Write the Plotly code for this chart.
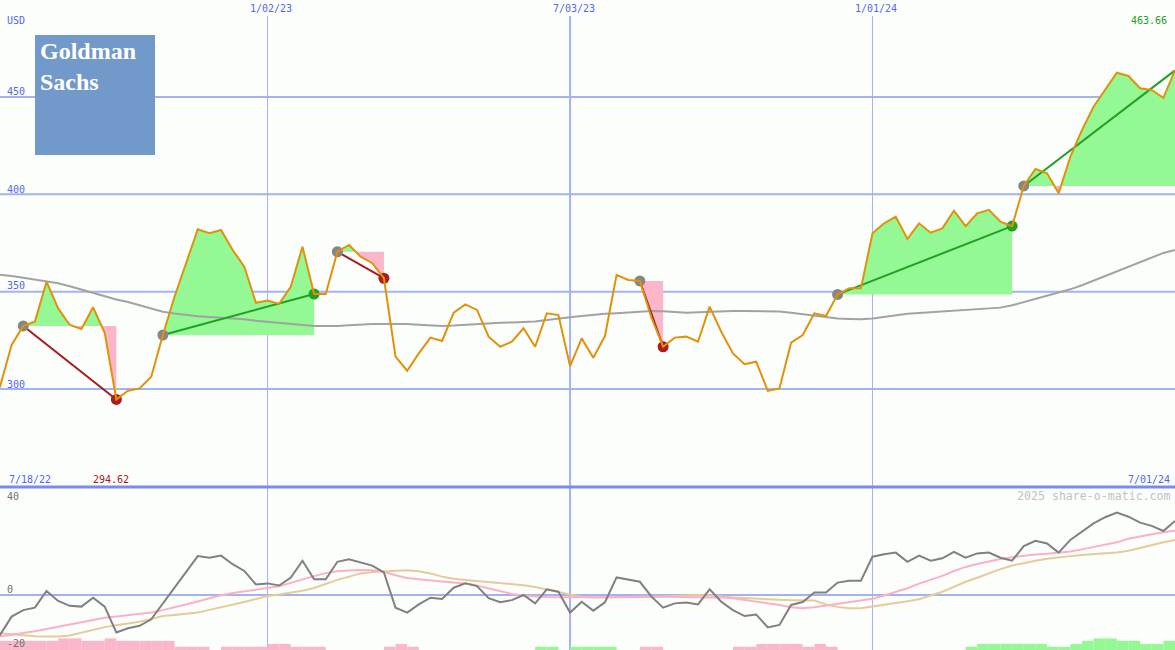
import pandas as pd
import plotly.graph_objects as go

# ---------------- data (weekly closes) ----------------
start_date = "2022-07-18"
n_weeks = 103
dates = list(pd.date_range(start_date, periods=n_weeks, freq="7D"))

price = [292.0, 301.2, 322.6, 332.4, 334.6, 355.1, 341.4, 332.9, 330.8, 342.0,
         328.9, 294.62, 299.1, 300.3, 306.3, 327.7, 347.4, 364.6, 382.0, 380.0,
         381.7, 371.4, 362.8, 344.3, 345.4, 343.7, 352.6, 373.1, 348.8, 348.8,
         370.5, 374.0, 368.0, 364.6, 356.9, 316.6, 309.4, 318.3, 326.4, 324.7,
         339.2, 343.5, 340.6, 326.9, 321.7, 324.3, 331.2, 321.7, 338.9, 338.0,
         311.8, 326.0, 316.1, 327.2, 358.6, 356.0, 355.5, 336.6, 321.7, 326.4,
         326.9, 324.3, 342.3, 329.4, 318.3, 312.7, 314.0, 299.1, 300.3, 323.8,
         327.7, 338.9, 337.5, 348.6, 351.7, 351.7, 380.0, 385.1, 388.5, 377.1,
         385.1, 380.3, 382.5, 391.6, 383.7, 390.2, 392.0, 386.0, 383.7, 404.3,
         413.0, 410.8, 400.5, 419.3, 433.0, 445.0, 453.6, 462.5, 460.8, 454.5,
         453.6, 449.6, 463.66]

moving_avg = [359.5, 358.6, 358.0, 357.2, 356.3, 355.5, 354.3, 352.8, 351.1, 349.3,
              347.6, 346.0, 344.7, 343.0, 341.2, 339.7, 338.8, 338.0, 337.4, 337.0,
              336.6, 336.3, 335.8, 335.1, 334.5, 334.0, 333.4, 332.7, 332.4, 332.4,
              332.4, 332.8, 333.2, 333.4, 333.4, 333.5, 333.4, 333.0, 332.6, 332.4,
              332.6, 333.0, 333.4, 333.8, 334.0, 334.2, 334.4, 334.7, 335.5, 336.3,
              336.9, 337.5, 338.1, 338.6, 338.9, 339.3, 339.8, 340.1, 340.0, 339.6,
              339.2, 339.4, 339.7, 340.0, 340.1, 340.1, 340.1, 340.1, 339.8, 339.2,
              338.4, 337.5, 336.7, 336.2, 336.0, 335.8, 336.2, 337.0, 338.0, 338.7,
              339.0, 339.4, 339.8, 340.2, 340.6, 341.0, 341.3, 341.8, 343.0, 344.6,
              346.2, 347.8, 349.4, 351.2, 353.3, 355.7, 358.0, 360.5, 363.0, 365.5,
              367.9, 369.9, 371.4]

# trades: entry week index, exit week index, whether the exit is closed (marker)
trade_entry = [3, 15, 30, 56, 73, 89]
trade_exit = [11, 28, 34, 58, 88, 102]
trade_closed = [True, True, True, True, True, False]

# lower panel
oscillator = [-17.0, -14.8, -8.0, -5.6, -4.7, 1.5, -2.2, -4.0, -4.3, -1.0,
              -4.3, -13.9, -12.3, -11.4, -9.0, -3.1, 2.5, 8.6, 14.4, 13.8,
              14.6, 11.4, 8.9, 3.9, 4.3, 3.5, 6.5, 12.7, 5.8, 5.8,
              12.3, 13.2, 12.0, 10.9, 8.4, -4.7, -6.5, -3.5, -1.0, -1.5,
              2.7, 4.3, 3.3, -1.2, -2.7, -1.9, 0.0, -3.1, 2.1, 1.2,
              -6.5, -2.5, -5.8, -2.7, 6.5, 5.6, 4.9, -0.6, -4.7, -3.1,
              -2.8, -3.5, 2.1, -2.5, -5.6, -7.8, -7.2, -12.0, -11.1, -3.7,
              -2.6, 0.9, 0.9, 4.6, 5.3, 5.3, 14.2, 15.1, 15.7, 12.3,
              14.6, 12.7, 13.6, 16.0, 13.8, 15.4, 15.7, 13.8, 12.7, 18.1,
              20.1, 19.1, 15.7, 20.4, 23.5, 26.5, 28.8, 30.5, 29.0, 26.8,
              25.6, 23.7, 27.4]

signal_fast = [-16.0, -15.4, -14.8, -14.2, -13.4, -12.6, -11.8, -10.9, -10.0, -9.2,
               -8.4, -8.0, -7.5, -7.0, -6.5, -5.6, -4.6, -3.4, -2.4, -1.2,
               -0.1, 0.7, 1.3, 2.0, 2.6, 3.2, 4.5, 5.8, 7.0, 8.1,
               8.8, 9.1, 9.3, 9.2, 8.6, 7.3, 6.3, 5.8, 5.3, 5.0,
               4.6, 4.3, 3.5, 2.5, 1.4, 0.4, -0.3, -0.6, -0.7, -0.8,
               -0.8, -0.9, -0.9, -0.9, -0.8, -0.7, -0.6, -0.6, -0.6, -0.7,
               -0.7, -0.8, -0.9, -0.9, -1.2, -1.8, -2.3, -3.0, -3.7, -4.5,
               -4.9, -4.5, -3.9, -3.2, -2.6, -2.1, -1.4, -0.2, 1.1, 2.5,
               4.2, 5.6, 7.1, 8.9, 10.4, 11.5, 12.5, 13.3, 14.0, 14.6,
               15.0, 15.3, 15.6, 16.1, 16.9, 17.7, 18.6, 19.5, 20.8, 21.7,
               22.5, 23.2, 23.8]

signal_slow = [-13.8, -14.2, -14.7, -15.1, -15.3, -15.4, -15.4, -15.0, -14.0, -12.9,
               -11.9, -11.2, -10.6, -9.9, -8.9, -7.8, -7.4, -7.0, -6.5, -5.5,
               -4.6, -3.7, -2.6, -1.5, -0.4, 0.2, 0.8, 1.6, 2.6, 4.1,
               5.6, 6.8, 8.0, 8.5, 8.7, 9.1, 9.2, 8.8, 8.0, 6.8,
               6.0, 5.6, 5.2, 4.9, 4.6, 4.1, 3.6, 3.0, 2.1, 1.0,
               0.2, -0.7, -0.9, -0.9, -0.9, -0.9, -0.8, -0.7, -0.6, -0.4,
               -0.2, 0.0, -0.2, -0.6, -0.9, -1.1, -1.4, -1.7, -1.8, -1.9,
               -1.9, -2.0, -3.5, -4.4, -4.9, -4.9, -4.3, -3.7, -3.0, -2.3,
               -1.6, -0.3, 1.2, 3.0, 4.9, 6.4, 8.0, 9.6, 10.9, 11.9,
               12.7, 13.4, 14.0, 14.4, 14.8, 15.2, 15.5, 15.7, 16.4, 17.4,
               18.5, 19.5, 20.4]

histogram = [-3.4, -3.4, -3.4, -3.4, -3.4, -3.4, -4.3, -4.3, -3.4, -3.4,
             -4.3, -3.4, -3.4, -3.4, -3.4, -3.4, -1.2, -1.2, -1.2, 0.0,
             -1.2, -1.2, -1.2, -1.2, -2.2, -2.2, -1.2, -1.2, -1.2, 0.0,
             0.0, 0.0, 0.0, 0.0, -1.2, -2.2, -1.2, 0.0, 0.0, 0.0,
             0.0, 0.0, 0.0, 0.0, 0.0, 0.0, 0.0, 1.2, 1.2, 0.0,
             1.2, 1.2, 1.2, 1.2, 0.0, 0.0, -1.2, -1.2, 0.0, 0.0,
             0.0, 0.0, 0.0, 0.0, -1.2, -1.2, -2.2, -2.2, -2.2, -2.2,
             -1.2, -2.2, -1.2, 0.0, 0.0, 0.0, 0.0, 0.0, 0.0, 0.0,
             0.0, 0.0, 0.0, 0.0, 1.2, 2.2, 2.2, 2.2, 2.2, 2.2,
             2.2, 1.2, 1.2, 2.2, 3.4, 4.3, 4.3, 3.4, 3.4, 2.2,
             2.2, 3.4, 3.4]

price_ticks = [300, 350, 400, 450]
osc_ticks = [40, 0, -20]
grid_dates = ["2023-01-02", "2023-07-03", "2024-01-01"]
grid_labels = ["1/02/23", "7/03/23", "1/01/24"]
first_label = "7/18/22"
last_label = "7/01/24"
low_label = "294.62"
last_price_label = "463.66"
logo_text = "Goldman<br>Sachs"

# ---------------- styling ----------------
W, H = 1175, 650
SPLIT = 487  # pixel row of panel separator
P_RANGE = [249.66, 499.83]
O_RANGE = [-20.37, 40.0]
X_RANGE = ["2022-07-25", "2024-07-01"]
BG = "#fcfefc"
GRID = "#a4b2f2"
BLUE_TXT = "#5466f0"
ORANGE = "#e0920a"
GREEN_FILL = "#94f894"
PINK_FILL = "#fbb6c9"
MONO = "DejaVu Sans Mono"


def px(x):
    return x / W


def py(y):
    return 1 - y / H


fig = go.Figure()

# ---------------- trade fills ----------------
for e, x_end in zip(trade_entry, trade_exit):
    level = price[e]
    xs, ps = [dates[e]], [price[e]]
    for k in range(e, x_end):
        p0, p1 = price[k], price[k + 1]
        if (p0 - level) * (p1 - level) < 0:
            f = (level - p0) / (p1 - p0)
            xs.append(dates[k] + (dates[k + 1] - dates[k]) * f)
            ps.append(level)
        xs.append(dates[k + 1])
        ps.append(p1)
    up = [max(p, level) for p in ps]
    dn = [min(p, level) for p in ps]
    for ys, col in ((up, GREEN_FILL), (dn, PINK_FILL)):
        fig.add_trace(go.Scatter(x=xs, y=[level] * len(xs), mode="lines",
                                 line=dict(width=0), hoverinfo="skip",
                                 showlegend=False))
        fig.add_trace(go.Scatter(x=xs, y=ys, mode="lines", fill="tonexty",
                                 fillcolor=col, line=dict(width=0),
                                 hoverinfo="skip", showlegend=False))

# moving average
fig.add_trace(go.Scatter(x=dates, y=moving_avg, mode="lines",
                         line=dict(color="#a2a2a2", width=2), showlegend=False,
                         hoverinfo="skip"))

# trade lines and markers
for e, x_end, closed in zip(trade_entry, trade_exit, trade_closed):
    win = price[x_end] > price[e]
    lc = "#22a022" if win else "#a41c1c"
    fig.add_trace(go.Scatter(x=[dates[e], dates[x_end]], y=[price[e], price[x_end]],
                             mode="lines", line=dict(color=lc, width=2),
                             showlegend=False, hoverinfo="skip"))
for e, x_end, closed in zip(trade_entry, trade_exit, trade_closed):
    win = price[x_end] > price[e]
    mc = "#24a024" if win else "#aa1e1e"
    fig.add_trace(go.Scatter(x=[dates[e]], y=[price[e]], mode="markers",
                             marker=dict(color="#868686", size=11),
                             showlegend=False, hoverinfo="skip"))
    if closed:
        fig.add_trace(go.Scatter(x=[dates[x_end]], y=[price[x_end]], mode="markers",
                                 marker=dict(color=mc, size=11),
                                 showlegend=False, hoverinfo="skip"))

# price line
fig.add_trace(go.Scatter(x=dates, y=price, mode="lines",
                         line=dict(color=ORANGE, width=2), showlegend=False,
                         hoverinfo="skip"))

# ---------------- lower panel ----------------
week_ms = 7 * 24 * 3600 * 1000
fig.add_trace(go.Bar(x=dates, y=[abs(v) for v in histogram], base=O_RANGE[0],
                     offset=0, width=[week_ms] * n_weeks,
                     marker=dict(color=[GREEN_FILL if v > 0 else PINK_FILL for v in histogram],
                                 line=dict(width=0)),
                     yaxis="y2", showlegend=False, hoverinfo="skip"))
fig.add_trace(go.Scatter(x=dates, y=signal_slow, mode="lines", yaxis="y2",
                         line=dict(color="#e4cc98", width=2), showlegend=False,
                         hoverinfo="skip"))
fig.add_trace(go.Scatter(x=dates, y=signal_fast, mode="lines", yaxis="y2",
                         line=dict(color="#fcb0c8", width=2), showlegend=False,
                         hoverinfo="skip"))
fig.add_trace(go.Scatter(x=dates, y=oscillator, mode="lines", yaxis="y2",
                         line=dict(color="#808080", width=2), showlegend=False,
                         hoverinfo="skip"))

# ---------------- shapes ----------------
shapes = []
for v in price_ticks:
    shapes.append(dict(type="line", xref="paper", yref="y", x0=0, x1=1, y0=v, y1=v,
                       line=dict(color=GRID, width=2), layer="below"))
shapes.append(dict(type="line", xref="paper", yref="y2", x0=0, x1=1, y0=0, y1=0,
                   line=dict(color=GRID, width=2), layer="below"))
for d in grid_dates:
    wv = 2 if d.endswith("07-03") else 1
    shapes.append(dict(type="line", xref="x", yref="paper", x0=d, x1=d, y0=0, y1=py(16),
                       line=dict(color=GRID, width=wv), layer="below"))
shapes.append(dict(type="line", xref="paper", yref="paper", x0=0, x1=1,
                   y0=py(SPLIT), y1=py(SPLIT), line=dict(color="#7a8af0", width=3),
                   layer="above"))
# logo box
shapes.append(dict(type="rect", xref="paper", yref="paper", x0=px(35), x1=px(155),
                   y0=py(155), y1=py(35), fillcolor="#7199c9", line=dict(width=0),
                   layer="above"))

# ---------------- annotations ----------------
ann = []


def label(text, x, y, color, anchor="left", size=10, family=MONO, pad=1, yanchor="middle"):
    ann.append(dict(text=text, x=px(x), y=py(y), xref="paper", yref="paper",
                    xanchor=anchor, yanchor=yanchor, showarrow=False, borderpad=pad,
                    align="left", font=dict(family=family, size=size, color=color)))


label("USD", 5, 21, BLUE_TXT)
tick_rows = {450: 91, 400: 189, 350: 286, 300: 384}
for v in price_ticks:
    label(str(v), 5, tick_rows[v], BLUE_TXT)
grid_px = {"2023-01-02": 271, "2023-07-03": 574, "2024-01-01": 876}
for d, t in zip(grid_dates, grid_labels):
    label(t, grid_px[d], 9, BLUE_TXT, anchor="center")
label(last_price_label, 1169, 21, "#22a022", anchor="right")
label(first_label, 7, 479, BLUE_TXT)
label(low_label, 91, 479, "#a41c1c")
label(last_label, 1172, 479, BLUE_TXT, anchor="right")
label("2025 share-o-matic.com", 1173, 496, "#c2c2c2", anchor="right", size=11.6)
osc_rows = {40: 496, 0: 589, -20: 643}
for v in osc_ticks:
    label(str(v), 5, osc_rows[v], "#707070")
label("<b>" + logo_text + "</b>", 39, 37, "white", size=24,
      family="Liberation Serif", pad=0, yanchor="top")

fig.update_layout(
    width=W, height=H, margin=dict(l=0, r=0, t=0, b=0),
    paper_bgcolor=BG, plot_bgcolor=BG,
    xaxis=dict(type="date", range=X_RANGE, domain=[0, 1], anchor="y2", visible=False),
    yaxis=dict(domain=[py(SPLIT), 1], range=P_RANGE, visible=False),
    yaxis2=dict(domain=[0, py(SPLIT)], range=O_RANGE, visible=False),
    shapes=shapes, annotations=ann, showlegend=False, barmode="overlay",
)

fig.write_html("out.html", config={"displayModeBar": False},
               post_script="document.body.style.margin='0';document.body.style.overflow='hidden';")
